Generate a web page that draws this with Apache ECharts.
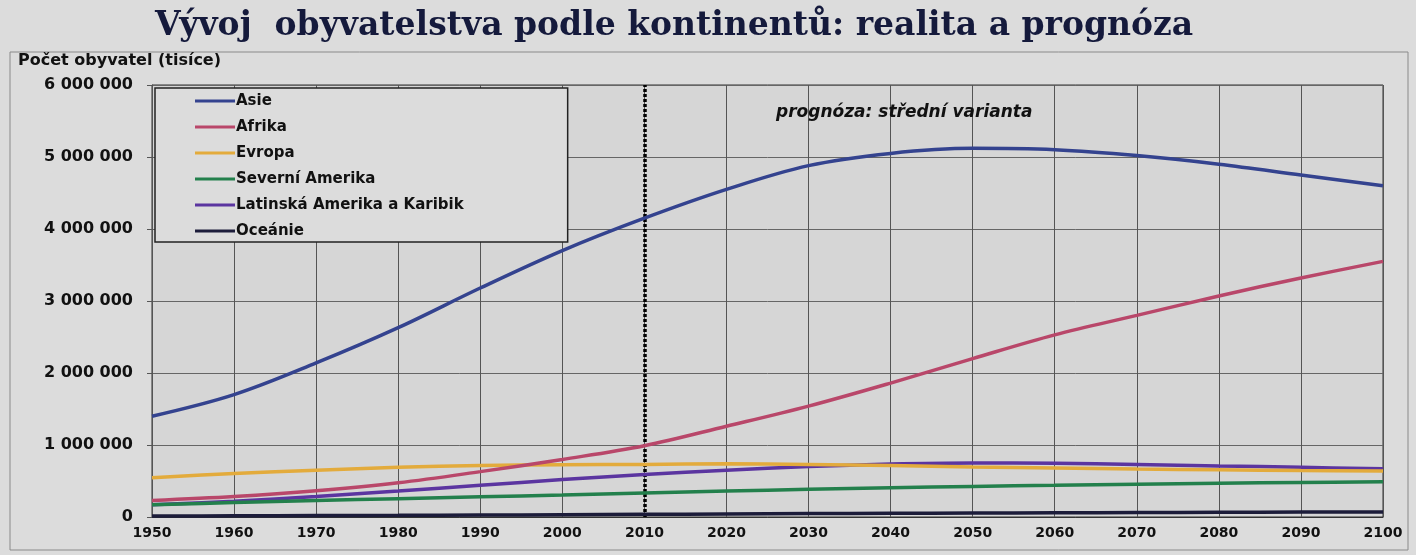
<!DOCTYPE html>
<html>
<head>
<meta charset="utf-8">
<script src="https://cdn.jsdelivr.net/npm/echarts@6/dist/echarts.min.js"></script>
<style>
html, body { margin: 0; padding: 0; background: #dcdcdc; }
#main { width: 1416px; height: 555px; }
</style>
</head>
<body>
<div id="main"></div>
<script>
var dom = document.getElementById('main');
var myChart = echarts.init(dom);

// roky na ose x
var years = ['1950', '1960', '1970', '1980', '1990', '2000', '2010', '2020',
             '2030', '2040', '2050', '2060', '2070', '2080', '2090', '2100'];

// počet obyvatel v tisících
var asie     = [1400000, 1700000, 2140000, 2630000, 3180000, 3700000, 4150000, 4550000,
                4880000, 5050000, 5120000, 5100000, 5020000, 4900000, 4750000, 4600000];
var afrika   = [230000, 285000, 365000, 475000, 630000, 800000, 990000, 1260000,
                1540000, 1860000, 2200000, 2530000, 2800000, 3070000, 3320000, 3550000];
var evropa   = [545000, 605000, 650000, 690000, 715000, 725000, 730000, 740000,
                730000, 715000, 695000, 680000, 665000, 655000, 645000, 640000];
var sevAm    = [170000, 200000, 230000, 255000, 280000, 305000, 335000, 360000,
                385000, 405000, 425000, 440000, 455000, 470000, 480000, 490000];
var latAm    = [170000, 220000, 285000, 360000, 440000, 520000, 590000, 650000,
                700000, 735000, 750000, 745000, 730000, 710000, 690000, 670000];
var oceanie  = [13000, 16000, 20000, 23000, 27000, 31000, 37000, 42000,
                47000, 51000, 55000, 59000, 62000, 65000, 68000, 70000];

var names = ['Asie', 'Afrika', 'Evropa', 'Severní Amerika', 'Latinská Amerika a Karibik', 'Oceánie'];
var colors = ['#34438f', '#b9476a', '#e3ab3c', '#23804c', '#5b35a0', '#1c1c3a'];
var values = [asie, afrika, evropa, sevAm, latAm, oceanie];

var sans = 'DejaVu Sans, Arial, sans-serif';

var fmt = function (v) {
    return String(v).replace(/\B(?=(\d{3})+(?!\d))/g, ' ');
};

var series = names.map(function (n, i) {
    var s = {
        name: n,
        type: 'line',
        smooth: 0.35,
        symbol: 'none',
        z: 10 - i,
        lineStyle: { color: colors[i], width: 3.5 },
        itemStyle: { color: colors[i] },
        data: values[i]
    };
    if (i === 0) {
        s.markLine = {
            silent: true,
            symbol: 'none',
            label: { show: false },
            lineStyle: { color: '#000', type: [3, 2], width: 3.5 },
            data: [{ xAxis: '2010' }]
        };
    }
    return s;
});

var option = {
    backgroundColor: '#dcdcdc',
    textStyle: { fontFamily: sans },
    title: {
        text: 'Vývoj  obyvatelstva podle kontinentů: realita a prognóza',
        left: 150,
        top: 5,
        textStyle: {
            fontFamily: 'DejaVu Serif, serif',
            fontWeight: 'bold',
            fontSize: 33,
            color: '#151a3c'
        }
    },
    legend: {
        orient: 'vertical',
        left: 155,
        top: 88,
        padding: [5, 104, 3, 40],
        icon: 'rect',
        itemWidth: 40,
        itemHeight: 3,
        itemGap: 10,
        backgroundColor: '#dcdcdc',
        borderColor: '#222',
        borderWidth: 1.5,
        textStyle: { fontFamily: sans, fontWeight: 'bold', fontSize: 15, color: '#111', lineHeight: 16, padding: [0, 0, 0, -4] },
        data: names
    },
    graphic: [
        {
            type: 'rect',
            shape: { x: 10, y: 52, width: 1398, height: 498 },
            style: { fill: 'none', stroke: '#8a8a8a', lineWidth: 1 },
            silent: true
        },
        {
            type: 'text',
            left: 18,
            top: 53,
            style: { text: 'Počet obyvatel (tisíce)', font: 'bold 16px DejaVu Sans, Arial, sans-serif', fill: '#111' }
        },
        {
            type: 'text',
            left: 776,
            top: 104,
            z: 20,
            style: { text: 'prognóza: střední varianta', font: 'italic bold 17px DejaVu Sans, Arial, sans-serif', fill: '#111' }
        }
    ],
    grid: {
        left: 152,
        right: 33,
        top: 85,
        bottom: 38,
        show: true,
        backgroundColor: '#d6d6d6',
        borderColor: '#333',
        borderWidth: 1
    },
    xAxis: {
        type: 'category',
        data: years,
        boundaryGap: false,
        axisLine: { lineStyle: { color: '#333' } },
        axisTick: { show: false },
        axisLabel: { fontFamily: sans, fontWeight: 'bold', fontSize: 14, color: '#111', margin: 9 },
        splitLine: { show: true, lineStyle: { color: '#555', width: 1 } }
    },
    yAxis: {
        type: 'value',
        min: 0,
        max: 6000000,
        interval: 1000000,
        axisLine: { show: true, lineStyle: { color: '#555' } },
        axisTick: { show: true, length: 5, lineStyle: { color: '#555' } },
        axisLabel: { fontFamily: sans, fontWeight: 'bold', fontSize: 16, color: '#111', margin: 19, formatter: fmt },
        splitLine: { show: true, lineStyle: { color: '#666', width: 1 } }
    },
    series: series
};

myChart.setOption(option, true);
</script>
</body>
</html>
